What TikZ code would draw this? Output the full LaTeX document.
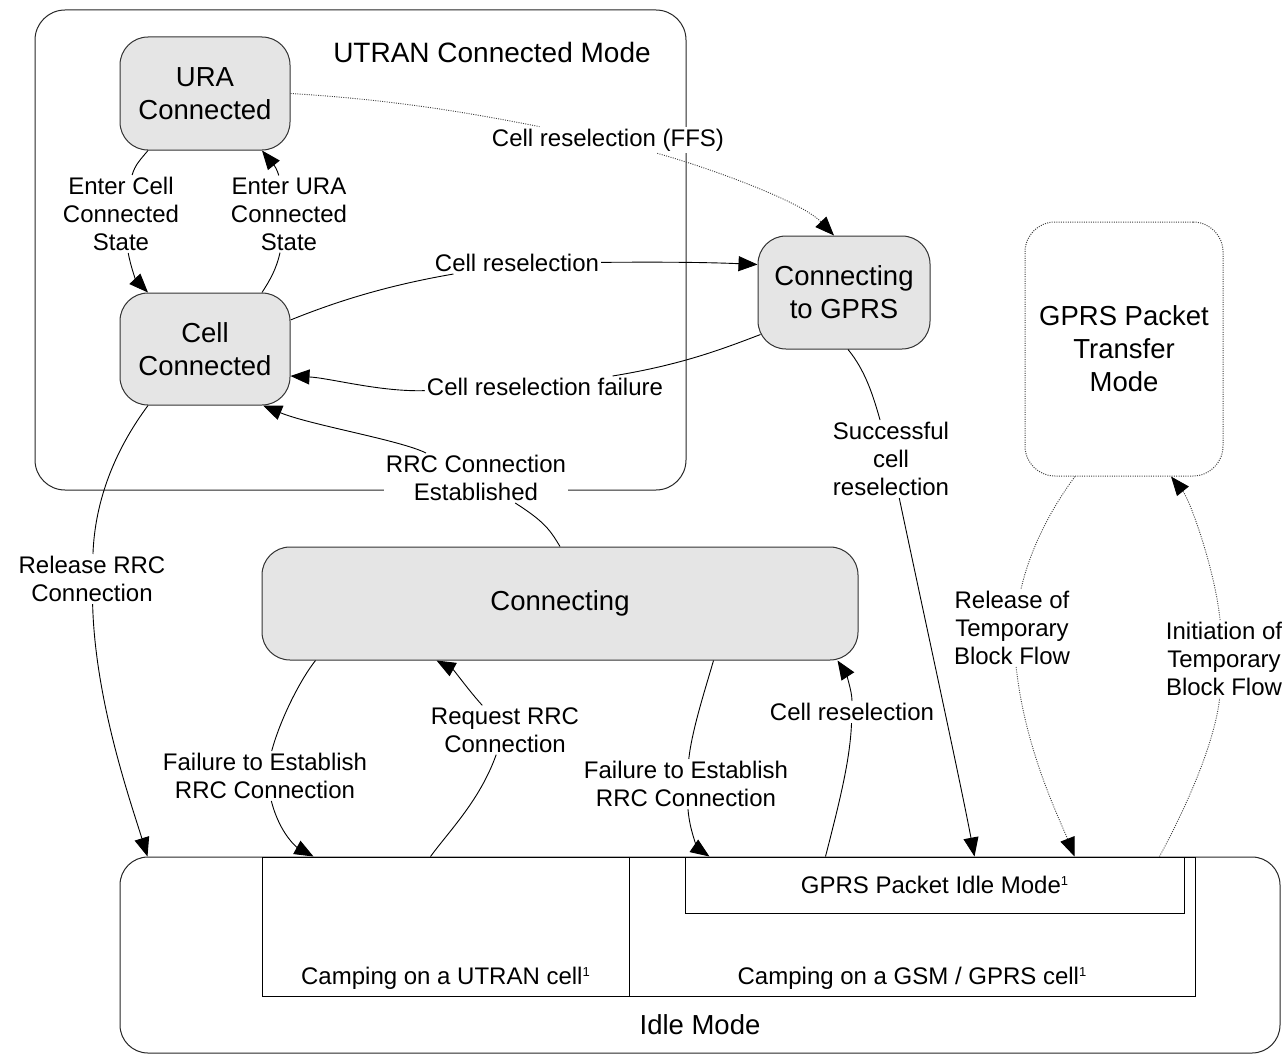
\documentclass[tikz,border=0pt]{standalone}
\usepackage{fontspec}
\setmainfont{Liberation Sans}
\usetikzlibrary{arrows.meta,calc}
\newcommand\boxfont{\fontsize{27.5}{33}\selectfont}
\newcommand\lblfont{\fontsize{24}{28}\selectfont}
\newcommand\titlefont{\fontsize{28}{33}\selectfont}
\newcommand\suponeX{\raisebox{8pt}{\fontsize{13}{13}\selectfont 1}}
\begin{document}
\begin{tikzpicture}[x=1pt,y=-1pt,
  state/.style={draw=black!80, fill=black!10, rounded corners=28pt, line width=1pt, inner sep=0pt, align=center, font=\boxfont},
  mode/.style={draw=black!85, rounded corners=30pt, line width=1pt, inner sep=0pt},
  plain/.style={draw=black, line width=1pt, inner sep=0pt},
  lbl/.style={font=\lblfont, align=center, inner sep=2pt, fill=white},
  arr/.style={line width=0.9pt, -{Triangle[length=19pt,width=15pt]}},
  dotarr/.style={line width=0.9pt, draw=black!75, dash pattern=on 1pt off 1.3pt, -{Triangle[length=19pt,width=15pt,color=black]}},
]
\useasboundingbox (0,0) rectangle (1284,1057);

% containers and states
\node[mode, minimum width=651pt, minimum height=480pt] (utran) at (360.5,250) {};
\node[font=\titlefont, inner sep=0pt] (utitle) at (492,52) {UTRAN Connected Mode};
\node[state, minimum width=170pt, minimum height=113pt] (ura) at (205,93.5) {URA\\Connected};
\node[state, minimum width=170pt, minimum height=112pt] (cell) at (205,349) {Cell\\Connected};
\node[state, minimum width=172pt, minimum height=113pt] (gprs) at (844,292.5) {Connecting\\to GPRS};
\node[mode, draw=black!75, dash pattern=on 1pt off 1.3pt, minimum width=198pt, minimum height=254pt, align=center, font=\boxfont] (transfer) at (1124,349) {GPRS Packet\\Transfer\\Mode};
\node[state, minimum width=596pt, minimum height=113pt] (conn) at (560,603.5) {Connecting};
\node[mode, rounded corners=28pt, minimum width=1160pt, minimum height=196pt] (idle) at (700,955) {};
\node[plain, minimum width=367pt, minimum height=139pt] (campU) at (445.5,926.5) {};
\node[plain, minimum width=566pt, minimum height=139pt] (campG) at (912,926.5) {};
\node[plain, minimum width=499pt, minimum height=56pt] (gpi) at (934.5,885) {};
\node[font=\lblfont] (gpiT) at (gpi) {GPRS Packet Idle Mode\suponeX};
\node[font=\lblfont] (campUT) at (445.5,978) {Camping on a UTRAN cell\suponeX};
\node[font=\lblfont] (campGT) at (912,978) {Camping on a GSM / GPRS cell\suponeX};
\node[font=\boxfont] (idleT) at (700,1025) {Idle Mode};

% labels
\node[lbl] (lFFS) at (608,140) {Cell reselection (FFS)};
\node[lbl] (lEC) at (121,214) {Enter Cell\\Connected\\State};
\node[lbl] (lEU) at (289,214) {Enter URA\\Connected\\State};
\node[lbl] (lCR) at (517,263) {Cell reselection};
\node[lbl] (lCRF) at (545,387) {Cell reselection failure};
\node[lbl] (lRRC) at (476,478) {RRC Connection\\Established};
\node[lbl] (lRel) at (92,579) {Release RRC\\Connection};
\node[lbl] (lFL) at (265,776) {Failure to Establish\\RRC Connection};
\node[lbl] (lReq) at (505,730) {Request RRC\\Connection};
\node[lbl] (lFR) at (686,784) {Failure to Establish\\RRC Connection};
\node[lbl] (lCR2) at (852,712) {Cell reselection};
\node[lbl] (lSucc) at (891,459) {Successful\\cell\\reselection};
\node[lbl] (lRTB) at (1012,628) {Release of\\Temporary\\Block Flow};
\node[lbl] (lITB) at (1224,659) {Initiation of\\Temporary\\Block Flow};

% connectors
\draw[dotarr] (ura.east) .. controls (400,100) and (480,115) .. (lFFS) .. controls (700,165) and (800,200) .. ([xshift=-10pt]gprs.north);
\draw[arr] ([xshift=-57pt]ura.south) .. controls (140,160) and (135,165) .. (lEC) .. controls (131,268) and (136,280) .. ([xshift=-57pt]cell.north);
\draw[arr] ([xshift=57pt]cell.north) .. controls (270,280) and (276,270) .. (lEU) .. controls (276,165) and (268,158) .. ([xshift=57pt]ura.south);
\draw[arr] ([yshift=29pt]cell.east) .. controls (340,300) and (390,285) .. (lCR) .. controls (650,262) and (700,262) .. ([yshift=28pt]gprs.west);
\draw[arr] ([xshift=3pt,yshift=-42pt]gprs.west) .. controls (720,350) and (680,365) .. (lCRF) .. controls (380,392) and (330,378) .. ([yshift=-27pt]cell.east);
\draw[arr] (conn.north) .. controls (550,530) and (545,522) .. (lRRC) .. controls (400,440) and (310,425) .. ([xshift=58pt]cell.south);
\draw[arr] ([xshift=-57pt]cell.south) .. controls (115,450) and (95,500) .. (lRel) .. controls (95,700) and (130,800) .. ([xshift=28pt]idle.north west);
\draw[arr] ([xshift=54pt]conn.south west) .. controls (300,680) and (280,720) .. (lFL) .. controls (280,835) and (298,848) .. ([xshift=194pt]idle.north west);
\draw[arr] ([xshift=311pt]idle.north west) .. controls (450,830) and (480,800) .. (lReq) .. controls (470,692) and (454,670) .. ([xshift=175pt]conn.south west);
\draw[arr] ([xshift=-145pt]conn.south east) .. controls (705,690) and (692,730) .. (lFR) .. controls (690,835) and (700,850) .. ([xshift=590pt]idle.north west);
\draw[arr] ([xshift=706pt]idle.north west) .. controls (840,800) and (850,760) .. (lCR2) .. controls (852,690) and (845,672) .. ([xshift=-21pt]conn.south east);
\draw[arr] ([xshift=4pt]gprs.south) .. controls (865,370) and (873,395) .. (lSucc) .. controls (925,620) and (960,780) .. ([xshift=855pt]idle.north west);
\draw[dotarr] ([xshift=-49pt]transfer.south) .. controls (1050,510) and (1030,550) .. (lRTB) .. controls (1025,750) and (1060,820) .. ([xshift=955pt]idle.north west);
\draw[dotarr] ([xshift=1040pt]idle.north west) .. controls (1190,800) and (1215,740) .. (lITB) .. controls (1215,570) and (1190,500) .. ([xshift=47pt]transfer.south);
\end{tikzpicture}
\end{document}
